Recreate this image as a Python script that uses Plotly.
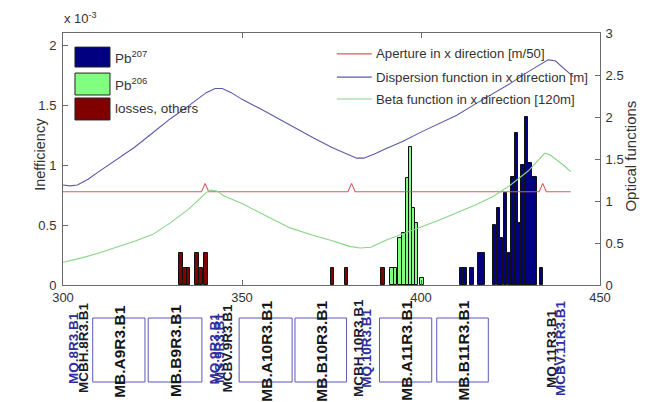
import plotly.graph_objects as go

# ---- loss histograms (inefficiency per bin, left axis) ----
pb207_s = [411.4, 412.3, 414.2, 416.5, 417.5, 420.5, 421.65, 422.5, 423.6, 424.7,
           425.7, 426.7, 427.5, 428.5, 429.5, 430.45, 431.4, 432.0, 433.6]
pb207_val = [0.14e-3, 0.14e-3, 0.14e-3, 0.27e-3, 0.27e-3, 0.50e-3, 0.64e-3, 0.39e-3,
             0.77e-3, 0.27e-3, 0.90e-3, 1.27e-3, 0.52e-3, 1.00e-3, 1.40e-3, 1.02e-3,
             0.90e-3, 0.90e-3, 0.14e-3]

pb206_s = [391.9, 392.9, 394.15, 395.25, 396.2, 397.05, 397.9, 398.75, 400.3]
pb206_val = [0.14e-3, 0.14e-3, 0.39e-3, 0.43e-3, 0.89e-3, 1.15e-3, 0.64e-3, 0.52e-3, 0.06e-3]

other_s = [332.9, 334.1, 335.0, 337.35, 338.6, 339.9, 375.3, 379.2, 389.4]
other_val = [0.27e-3, 0.14e-3, 0.14e-3, 0.27e-3, 0.14e-3, 0.27e-3, 0.14e-3, 0.14e-3, 0.14e-3]

# ---- optical functions (right axis) ----
aper_s = [300, 338.7, 339.7, 340.7, 379.6, 380.6, 381.6, 433.0, 434.0, 435.0, 441.8]
aper_val = [1.11, 1.11, 1.21, 1.11, 1.11, 1.21, 1.11, 1.11, 1.21, 1.11, 1.11]

disp_s = [300, 302, 304, 307, 310, 315, 320, 325, 330, 335, 340, 342.5, 344.5, 347, 350,
          355, 360, 365, 370, 375, 380, 382, 384, 387, 390, 395, 400, 405, 410, 415, 420,
          425, 430, 433, 435.5, 437.5, 440, 442.5]
disp_val = [1.19, 1.18, 1.19, 1.26, 1.35, 1.49, 1.64, 1.81, 1.98, 2.13, 2.29, 2.34, 2.34,
            2.29, 2.21, 2.10, 1.98, 1.86, 1.75, 1.64, 1.55, 1.51, 1.51, 1.56, 1.62, 1.71,
            1.82, 1.92, 2.02, 2.15, 2.27, 2.40, 2.54, 2.62, 2.68, 2.67, 2.58, 2.48]

beta_s = [300, 305, 310, 315, 320, 325, 330, 335, 338, 340, 341.3, 343, 345, 350, 355, 360,
          363.4, 370, 375, 380, 383, 386, 390, 395, 400, 405, 410, 415, 420, 425, 430,
          434.6, 436, 438, 440, 441.8]
beta_val = [0.27, 0.32, 0.38, 0.45, 0.52, 0.60, 0.74, 0.90, 1.02, 1.10, 1.13, 1.12, 1.06,
            0.97, 0.86, 0.75, 0.68, 0.59, 0.53, 0.46, 0.44, 0.45, 0.53, 0.61, 0.69, 0.77,
            0.86, 0.95, 1.05, 1.19, 1.36, 1.57, 1.55, 1.49, 1.42, 1.35]

# ---- axis ticks ----
x_ticks = [300, 350, 400, 450]
y_ticks = [0, 0.5e-3, 1.0e-3, 1.5e-3, 2.0e-3]
y_ticktext = ["0", "0.5", "1", "1.5", "2"]
y2_ticks = [0, 0.5, 1, 1.5, 2, 2.5, 3]
y2_ticktext = ["0", "0.5", "1", "1.5", "2", "2.5", "3"]

# ---- lattice elements drawn under the axis ----
dipole_names = ["MB.A9R3.B1", "MB.B9R3.B1", "MB.A10R3.B1", "MB.B10R3.B1", "MB.A11R3.B1", "MB.B11R3.B1"]
dipole_start = [308.3, 323.8, 349.2, 364.8, 388.4, 404.4]
dipole_end = [322.9, 338.8, 364.0, 379.2, 403.0, 418.8]

quad_names = ["MQ.8R3.B1", "MCBH.8R3.B1",
              "MQ.9R3.B1", "MS.9R3.B1", "MCBV.9R3.B1",
              "MCBH.10R3.B1", "MQ.10R3.B1",
              "MQ.11R3.B1", "MCBV.11R3.B1"]
quad_s = [302.8, 305.6,
          342.3, 343.6, 345.7,
          382.4, 384.6,
          436.3, 438.8]
quad_dark = [False, True, False, False, True, True, False, True, False]

FONT = "Liberation Sans, Arial, Helvetica, sans-serif"
TXT = "#333333"
AXC = "#6a6a6a"

C207 = "#000080"
C206 = "#80ff80"
COTH = "#800000"
CAPER = "#d95a60"
CDISP = "#5a5aa8"
CBETA = "#88d488"

fig = go.Figure()

bar_line = dict(color="#111111", width=1)
fig.add_trace(go.Bar(x=other_s, y=other_val, width=1.0, marker=dict(color=COTH, line=bar_line),
                     name="losses, others", yaxis="y"))
fig.add_trace(go.Bar(x=pb206_s, y=pb206_val, width=0.9, marker=dict(color=C206, line=bar_line),
                     name="Pb206", yaxis="y"))
fig.add_trace(go.Bar(x=pb207_s, y=pb207_val, width=1.0, marker=dict(color=C207, line=bar_line),
                     name="Pb207", yaxis="y"))

fig.add_trace(go.Scatter(x=aper_s, y=aper_val, mode="lines", line=dict(color=CAPER, width=1.1),
                         name="Aperture in x direction [m/50]", yaxis="y2"))
fig.add_trace(go.Scatter(x=disp_s, y=disp_val, mode="lines", line=dict(color=CDISP, width=1.1),
                         name="Dispersion function in x direction [m]", yaxis="y2"))
fig.add_trace(go.Scatter(x=beta_s, y=beta_val, mode="lines", line=dict(color=CBETA, width=1.1),
                         name="Beta function in x direction [120m]", yaxis="y2"))

shapes = []
annotations = []

# left legend (bar series) with large colour patches
bar_legend = [("Pb<sup>207</sup>", C207), ("Pb<sup>206</sup>", C206), ("losses, others", COTH)]
patch_rows = [(0.865, 0.944), (0.754, 0.841), (0.655, 0.742)]
for (label, col), (y0, y1) in zip(bar_legend, patch_rows):
    shapes.append(dict(type="rect", xref="paper", yref="paper", x0=0.0223, x1=0.0875,
                       y0=y0, y1=y1, fillcolor=col, line=dict(color="#222222", width=1)))
    annotations.append(dict(xref="paper", yref="paper", x=0.0931, y=(y0 + y1) / 2,
                            text=label, showarrow=False, xanchor="left", yanchor="middle",
                            font=dict(family=FONT, size=13.5, color=TXT)))

# right legend (optical functions)
line_legend = [("Aperture in x direction [m/50]", CAPER),
               ("Dispersion function in x direction [m]", CDISP),
               ("Beta function in x direction [120m]", CBETA)]
line_rows = [0.917, 0.825, 0.738]
for (label, col), yy in zip(line_legend, line_rows):
    shapes.append(dict(type="line", xref="paper", yref="paper", x0=0.510, x1=0.575,
                       y0=yy, y1=yy, line=dict(color=col, width=1.1)))
    annotations.append(dict(xref="paper", yref="paper", x=0.580, y=yy, text=label,
                            showarrow=False, xanchor="left", yanchor="middle",
                            font=dict(family=FONT, size=13.2, color=TXT)))

# exponent label of the left axis
annotations.append(dict(xref="paper", yref="paper", x=-0.002, y=1.02, text="x 10<sup>-3</sup>",
                        showarrow=False, xanchor="left", yanchor="bottom",
                        font=dict(family=FONT, size=13, color=TXT)))

# axis titles
annotations.append(dict(xref="paper", yref="paper", x=-0.043, y=0.52, text="Inefficiency",
                        textangle=-90, showarrow=False, xanchor="center", yanchor="middle",
                        font=dict(family=FONT, size=14.5, color=TXT)))
annotations.append(dict(xref="paper", yref="paper", x=1.056, y=0.51, text="Optical functions",
                        textangle=-90, showarrow=False, xanchor="center", yanchor="middle",
                        font=dict(family=FONT, size=15, color=TXT)))

# dipole boxes with their names
BOX_Y0, BOX_Y1, LABEL_Y, QUAD_Y = -0.385, -0.131, -0.262, -0.250
for name, s0, s1 in zip(dipole_names, dipole_start, dipole_end):
    shapes.append(dict(type="rect", xref="x", yref="paper", x0=s0, x1=s1, y0=BOX_Y0, y1=BOX_Y1,
                       line=dict(color="#5a5ab4", width=1), fillcolor="rgba(0,0,0,0)"))
    annotations.append(dict(xref="x", yref="paper", x=(s0 + s1) / 2, y=LABEL_Y, text=name,
                            textangle=-90, showarrow=False, xanchor="center", yanchor="middle",
                            font=dict(family=FONT, size=15.5, color="#161616", weight="bold")))

# quadrupoles and correctors (short elements, overlapping labels)
for name, s, dark in zip(quad_names, quad_s, quad_dark):
    annotations.append(dict(xref="x", yref="paper", x=s, y=QUAD_Y, text=name,
                            textangle=-90, showarrow=False, xanchor="center", yanchor="middle",
                            font=dict(family=FONT, size=13.5,
                                      color="#1a1a2a" if dark else "#2e2e9e", weight="bold")))

axis_common = dict(showline=True, linecolor=AXC, linewidth=1, ticks="inside", ticklen=5,
                   tickcolor=AXC, showgrid=False, zeroline=False,
                   tickfont=dict(family=FONT, size=13, color=TXT))

fig.update_layout(
    width=646, height=402,
    margin=dict(l=63, r=46, t=33, b=117),
    paper_bgcolor="white", plot_bgcolor="white",
    showlegend=False, barmode="overlay", bargap=0,
    xaxis=dict(range=[300, 450], tickvals=x_ticks, ticktext=[str(v) for v in x_ticks],
               mirror="ticks", **axis_common),
    yaxis=dict(range=[0, 2.1e-3], tickvals=y_ticks, ticktext=y_ticktext,
               ticklabelstandoff=3, **axis_common),
    yaxis2=dict(range=[0, 3], tickvals=y2_ticks, ticktext=y2_ticktext, overlaying="y",
                side="right", ticklabelstandoff=2, **axis_common),
    shapes=shapes, annotations=annotations,
)

fig.write_html("out.html")
